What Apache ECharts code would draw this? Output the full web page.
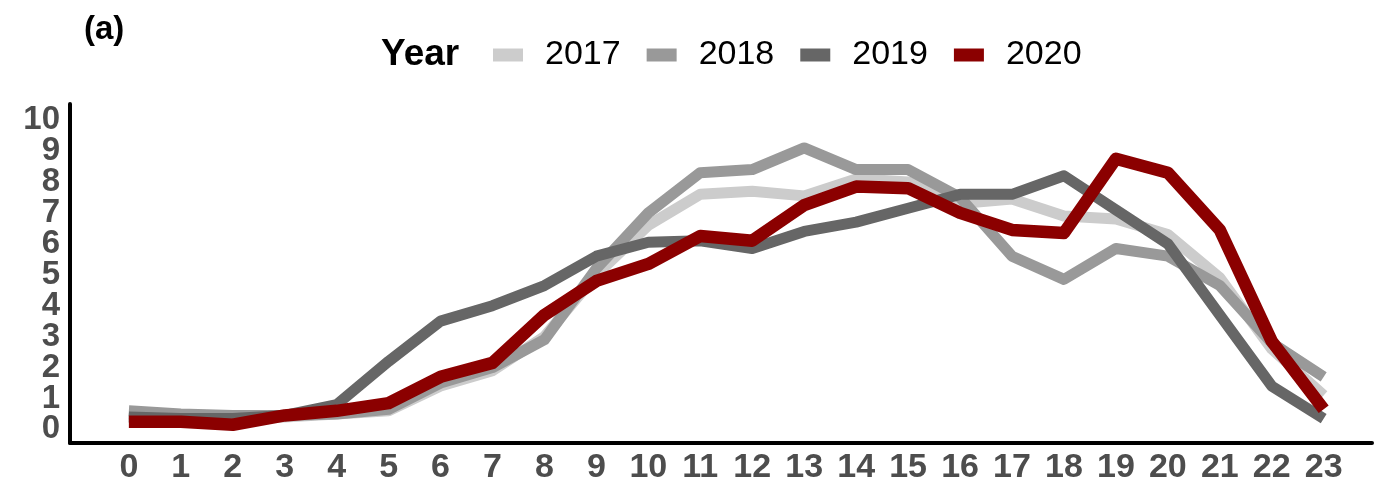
<!DOCTYPE html>
<html>
<head>
<meta charset="utf-8">
<script src="https://cdn.jsdelivr.net/npm/echarts@6/dist/echarts.min.js"></script>
<style>
  html, body { margin: 0; padding: 0; background: #fff; }
  #chart { width: 1375px; height: 485px; }
</style>
</head>
<body>
<div id="chart"></div>
<script>
// hours of the day
const hours = [0, 1, 2, 3, 4, 5, 6, 7, 8, 9, 10, 11, 12, 13, 14, 15, 16, 17, 18, 19, 20, 21, 22, 23]
// y tick labels, split over two axes so ECharts doesn't drop the crowded ones
const yTicksEven = [0, 2, 4, 6, 8, 10]
const yTicksOdd = [1, 3, 5, 7, 9]
const years = ['2017', '2018', '2019', '2020']
const colors = ['#cccccc', '#999999', '#666666', '#8b0000']

const v2017 = [0.5, 0.4, 0.35, 0.4, 0.5, 0.6, 1.4, 1.9, 3.0, 5.0, 6.6, 7.6, 7.7, 7.55, 8.1, 8.0, 7.3, 7.45, 6.9, 6.8, 6.3, 4.9, 2.6, 1.1]
const v2018 = [0.6, 0.5, 0.45, 0.45, 0.5, 0.65, 1.5, 2.0, 2.9, 5.2, 7.0, 8.3, 8.4, 9.1, 8.4, 8.4, 7.5, 5.6, 4.85, 5.85, 5.6, 4.65, 2.8, 1.7]
const v2019 = [0.4, 0.35, 0.35, 0.45, 0.8, 2.2, 3.5, 4.0, 4.65, 5.6, 6.05, 6.1, 5.85, 6.4, 6.7, 7.15, 7.6, 7.6, 8.2, 7.1, 6.0, 3.7, 1.4, 0.35]
const v2020 = [0.25, 0.25, 0.15, 0.45, 0.6, 0.85, 1.7, 2.15, 3.7, 4.8, 5.35, 6.25, 6.1, 7.25, 7.85, 7.8, 7.0, 6.45, 6.35, 8.75, 8.3, 6.45, 2.85, 0.65]

const values = [v2017, v2018, v2019, v2020]
const labelFont = 'Liberation Sans, Helvetica, Arial, sans-serif'

const chart = echarts.init(document.getElementById('chart'))

const series = years.map((y, i) => ({
  name: y,
  type: 'line',
  yAxisIndex: 0,
  data: hours.map((h, j) => [h, values[i][j]]),
  showSymbol: false,
  symbol: 'none',
  lineStyle: {
    color: colors[i],
    width: i === 3 ? 12.5 : 11,
    join: 'round',
    cap: 'butt'
  },
  itemStyle: { color: colors[i] },
  z: 2 + i,
  animation: false
}))

const yLabel = {
  showMinLabel: true,
  showMaxLabel: true,
  hideOverlap: false,
  margin: 10,
  fontFamily: labelFont,
  fontWeight: 'bold',
  fontSize: 33,
  color: '#4d4d4d'
}

const yBase = {
  type: 'value',
  position: 'left',
  offset: 0,
  min: -0.44,
  max: 10.52,
  splitLine: { show: false },
  axisTick: { show: false }
}

chart.setOption({
  animation: false,
  title: [
    {
      text: '(a)',
      left: 79,
      top: 8,
      textStyle: { fontFamily: labelFont, fontWeight: 'bold', fontSize: 33, color: '#000' }
    },
    {
      text: 'Year',
      left: 376,
      top: 31,
      textStyle: { fontFamily: labelFont, fontWeight: 'bold', fontSize: 37, color: '#000' }
    }
  ],
  legend: {
    data: years,
    left: 488,
    top: 33,
    icon: 'rect',
    itemWidth: 30,
    itemHeight: 13,
    itemGap: 26,
    textStyle: {
      fontFamily: labelFont,
      fontSize: 34,
      color: '#000',
      padding: [0, 0, 0, 17]
    }
  },
  grid: {
    left: 70,
    right: 3,
    top: 104,
    bottom: 42,
    containLabel: false
  },
  xAxis: {
    type: 'value',
    min: -1.133,
    max: 23.93,
    splitLine: { show: false },
    axisTick: { show: false },
    axisLine: { show: true, onZero: false, lineStyle: { color: '#000', width: 4 } },
    axisLabel: {
      customValues: hours,
      showMinLabel: true,
      showMaxLabel: true,
      hideOverlap: false,
      margin: 8,
      fontFamily: labelFont,
      fontWeight: 'bold',
      fontSize: 34,
      color: '#4d4d4d'
    }
  },
  yAxis: [
    Object.assign({}, yBase, {
      axisLine: { show: true, onZero: false, lineStyle: { color: '#000', width: 4 } },
      axisLabel: Object.assign({ customValues: yTicksEven }, yLabel)
    }),
    Object.assign({}, yBase, {
      axisLine: { show: false },
      axisLabel: Object.assign({ customValues: yTicksOdd }, yLabel)
    })
  ],
  series: series
})
</script>
</body>
</html>
